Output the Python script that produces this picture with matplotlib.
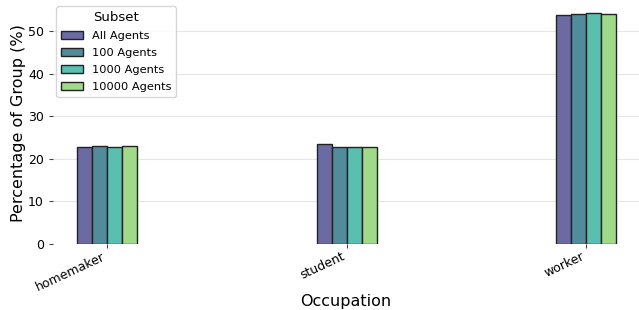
import matplotlib.pyplot as plt
import numpy as np

occupations = ['homemaker', 'student', 'worker']
subsets = ['All Agents', '100 Agents', '1000 Agents', '10000 Agents']
all_agents = [22.7, 23.4, 53.9]
agents_100 = [23.0, 22.9, 54.0]
agents_1000 = [22.9, 22.9, 54.2]
agents_10000 = [23.0, 22.9, 54.0]
series = [all_agents, agents_100, agents_1000, agents_10000]
colors = ['#6b6aa3', '#528b9b', '#5bbfb0', '#a1d98b']

fig = plt.figure(figsize=(6.39, 3.10), dpi=100)
ax = fig.add_axes([0.083, 0.213, 0.917, 0.781])

x = np.arange(len(occupations))
w = 0.0625
for i, (name, vals) in enumerate(zip(subsets, series)):
    ax.bar(x + (i - 1.5) * w, vals, w, color=colors[i],
           edgecolor='#222222', linewidth=1, label=name, zorder=3)

ax.set_xlim(-0.2255, 2.22)
ax.set_ylim(0, 56.9)
ax.set_xticks(x)
ax.set_xticklabels(occupations, rotation=25, ha='right')
ax.set_yticks([0, 10, 20, 30, 40, 50])
ax.grid(axis='y', color='#e6e6e6', linewidth=0.8, zorder=0)
for s in ax.spines.values():
    s.set_visible(False)
ax.tick_params(axis='both', length=3, color='#444444', labelsize=9)
ax.tick_params(axis='x', pad=1.5)
ax.set_xlabel('Occupation', fontsize=11.5, labelpad=0)
ax.set_ylabel('Percentage of Group (%)', fontsize=11.5, labelpad=1.5)
ax.legend(title='Subset', loc='upper left', fontsize=8.2, title_fontsize=9.5,
          bbox_to_anchor=(0.0, 0.995), borderaxespad=0.3, labelspacing=0.62,
          handlelength=1.9)

fig.savefig('out.png', dpi=100)
